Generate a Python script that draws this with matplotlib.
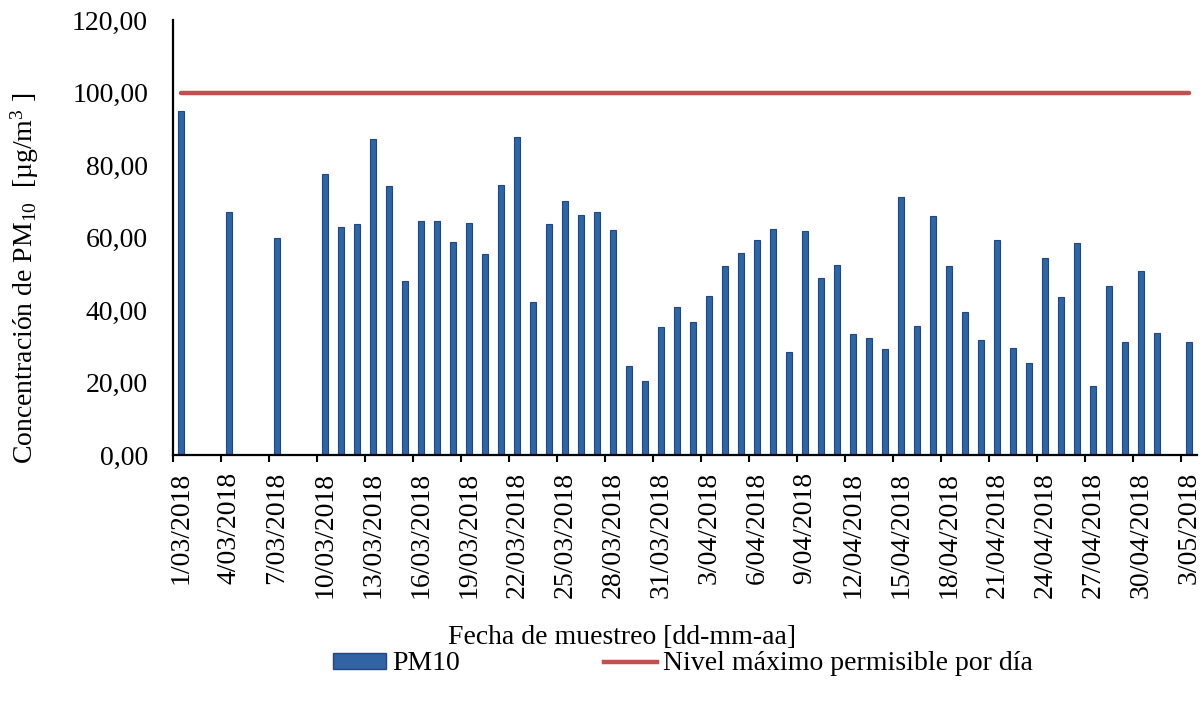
#!/usr/bin/env python3

import numpy as np
import pandas as pd
import matplotlib
matplotlib.use("Agg")
import matplotlib.pyplot as plt
import matplotlib.dates as mdates
from matplotlib.patches import Patch
from matplotlib.lines import Line2D

# Fechas de muestreo (dd/mm/aaaa)
fechas = (
    ["01/03/2018", "04/03/2018", "07/03/2018"]
    + [f"{d:02d}/03/2018" for d in range(10, 32)]
    + [f"{d:02d}/04/2018" for d in range(1, 31)]
    + ["01/05/2018", "03/05/2018"]
)

# Concentracion PM10 [ug/m3]
pm10 = [
    94.8, 66.9, 60.0,
    77.6, 62.8, 63.7, 87.1, 74.2, 47.9, 64.5, 64.5, 58.7, 63.9, 55.4,
    74.4, 87.7, 42.1, 63.7, 70.0, 66.2, 67.0, 62.0, 24.6, 20.3, 35.2,
    40.8, 36.6, 43.8, 52.1, 55.7, 59.3, 62.3, 28.3, 61.7, 48.8, 52.4,
    33.3, 32.2, 29.2, 71.1, 35.5, 65.9, 52.1, 39.4, 31.7, 59.3, 29.4,
    25.3, 54.3, 43.5, 58.4, 19.0, 46.5, 31.3, 50.7, 33.6,
    31.1,
]

nivel_maximo = 100.0
inicio, fin = "2018-03-01", "2018-05-03"

plt.rcParams["font.family"] = ["Liberation Serif", "DejaVu Serif"]
plt.rcParams["mathtext.fontset"] = "custom"
plt.rcParams["mathtext.rm"] = "Liberation Serif"
plt.rcParams["mathtext.it"] = "Liberation Serif:italic"

FS = 20


def main():
    x = mdates.date2num(pd.to_datetime(fechas, format="%d/%m/%Y"))
    x0 = mdates.date2num(pd.Timestamp(inicio))
    x1 = mdates.date2num(pd.Timestamp(fin))

    fig = plt.figure(figsize=(12.04, 7.08), dpi=100)
    ax = fig.add_axes([173 / 1204, 1 - 455 / 708, 1024 / 1204, 435 / 708])

    ax.bar(x, pm10, width=0.4, color="#3263A3", edgecolor="#22477C",
           linewidth=0.8, zorder=2)
    ax.plot([x0, x1], [nivel_maximo, nivel_maximo], color="#C0504D",
            linewidth=3.2, solid_capstyle="round", zorder=3)

    ax.set_xlim(x0 - 0.5, x1 + 0.5)
    ax.set_ylim(0, 120)
    ax.set_yticks(np.arange(0, 121, 20))
    ax.set_yticklabels([f"{v:.2f}".replace(".", ",") for v in np.arange(0, 121, 20)])

    tick_days = pd.date_range(inicio, fin, freq="3D")
    tpos = mdates.date2num(tick_days)
    ax.set_xticks(tpos)
    ax.set_xticklabels([f"{d.day}/{d:%m/%Y}" for d in tick_days], rotation=90)
    ax.set_xticks(tpos - 0.5, minor=True)

    ax.tick_params(axis="x", which="major", length=0, pad=12, labelsize=FS)
    ax.tick_params(axis="x", which="minor", length=5, width=1.5, direction="out")
    ax.tick_params(axis="y", length=0, pad=18, labelsize=FS)

    for s in ("top", "right"):
        ax.spines[s].set_visible(False)
    for s in ("left", "bottom"):
        ax.spines[s].set_linewidth(1.6)

    fig.text(25 / 1204, 1 - 278 / 708,
             r"Concentración de PM$_{10}$  [µg/m$^{3}$ ]",
             rotation=90, ha="center", va="center", fontsize=FS)
    fig.text(622 / 1204, 1 - 638 / 708, "Fecha de muestreo [dd-mm-aa]",
             ha="center", va="center", fontsize=FS)

    handles = [
        Patch(facecolor="#3263A3", edgecolor="#22477C"),
        Line2D([0], [0], color="#C0504D", linewidth=3.2),
    ]
    fig.legend(handles, ["PM10", "Nivel máximo permisible por día"],
               loc="center", bbox_to_anchor=(683 / 1204, 1 - 664 / 708),
               ncol=2, frameon=False, fontsize=FS, handlelength=1.9,
               handleheight=0.5, handletextpad=0.22, columnspacing=5.2)

    fig.savefig("out.png", dpi=100)
    plt.close(fig)


if __name__ == "__main__":
    main()
